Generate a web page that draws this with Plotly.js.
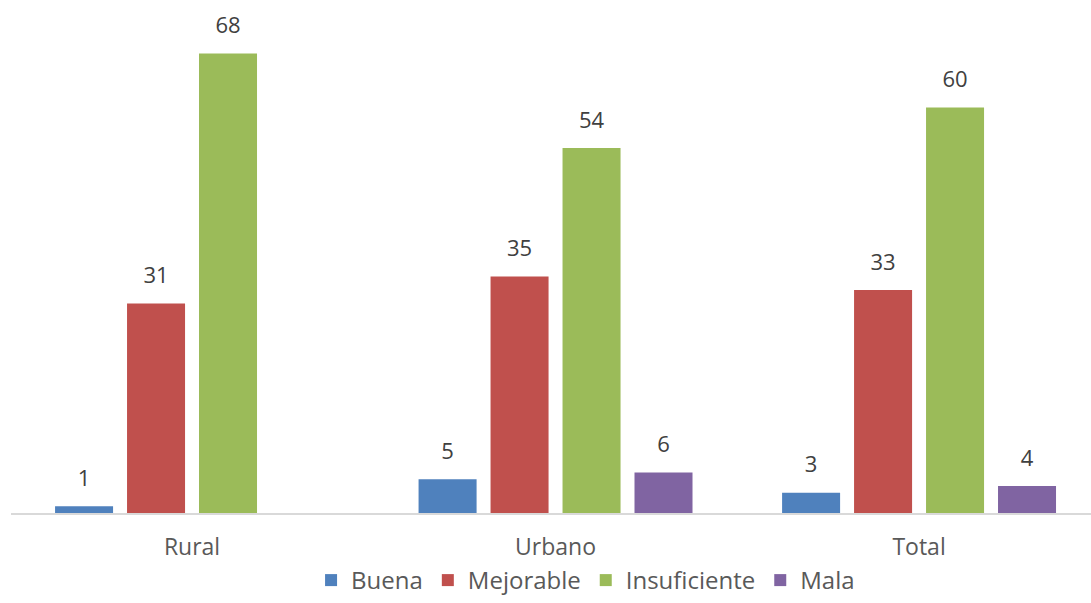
<!DOCTYPE html>
<html><head><meta charset="utf-8">
<script src="https://cdn.plot.ly/plotly-3.0.1.min.js"></script>
<style>html,body{margin:0;padding:0;background:#fff;overflow:hidden}</style>
</head><body>
<div id="chart" style="width:1091px;height:603px"></div>
<script>
const categories = ["Rural", "Urbano", "Total"];
const seriesNames = ["Buena", "Mejorable", "Insuficiente", "Mala"];
const buena = [1, 5, 3];
const mejorable = [31, 35, 33];
const insuficiente = [68, 54, 60];
const mala = [null, 6, 4];
const colors = ["#4F81BD", "#C0504D", "#9BBB59", "#8064A2"];

const FONT = "'Open Sans', sans-serif";
const values = [buena, mejorable, insuficiente, mala];
const barTraces = values.map((v, i) => ({
  type: "bar",
  name: seriesNames[i],
  x: categories,
  y: v,
  marker: {color: colors[i]},
  hoverinfo: "skip"
}));
const labelTraces = values.map((v, i) => ({
  type: "scatter",
  mode: "markers+text",
  x: categories,
  y: v,
  text: v.map(d => d == null ? "" : String(d)),
  textposition: "top center",
  marker: {size: 22, opacity: 0, color: colors[i]},
  textfont: {family: FONT, size: 22, color: "#404040"},
  showlegend: false,
  cliponaxis: false,
  hoverinfo: "skip"
}));

const layout = {
  width: 1091, height: 603,
  margin: {l: 11, r: 0, t: 40, b: 90},
  paper_bgcolor: "#fff", plot_bgcolor: "#fff",
  font: {family: FONT, size: 23, color: "#595959"},
  barmode: "group",
  scattermode: "group",
  bargap: 0.208,
  bargroupgap: 0.194,
  scattergap: 0.208,
  showlegend: true,
  legend: {orientation: "h", x: 0.532, xanchor: "center", yref: "container", y: -0.02, yanchor: "bottom",
           font: {family: FONT, size: 24, color: "#595959"}, itemwidth: 30, traceorder: "normal"},
  xaxis: {range: [-0.498, 2.473], showline: true, linecolor: "#D9D9D9", linewidth: 1.5,
          ticks: "", showgrid: false, zeroline: false, ticklabelstandoff: 13,
          tickfont: {family: FONT, size: 23, color: "#595959"}},
  yaxis: {range: [0, 70], visible: false, showgrid: false, zeroline: false}
};
Plotly.newPlot("chart", barTraces.concat(labelTraces), layout, {displayModeBar: false, staticPlot: true});
</script>
</body></html>
